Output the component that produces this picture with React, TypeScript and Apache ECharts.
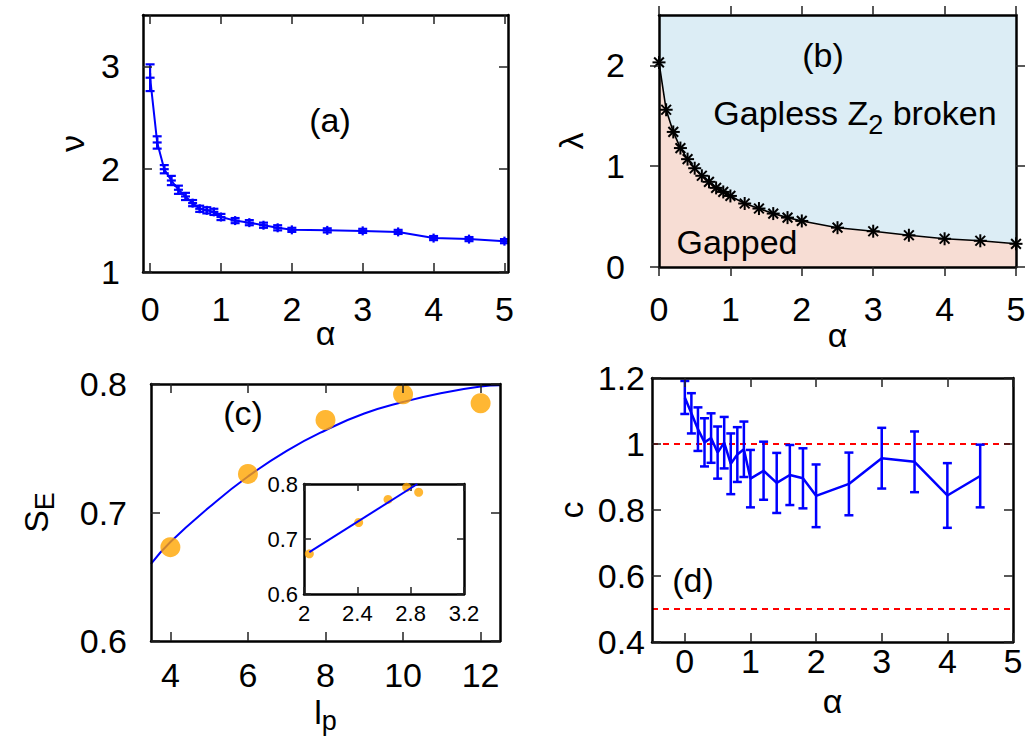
import React, { useEffect, useRef } from "react";
import * as echarts from "echarts";

const FONT = "'Liberation Sans', Arial, Helvetica, sans-serif";

// ---------- Panel (a) ----------
const alphaA = [0, 0.1, 0.2, 0.3, 0.4, 0.5, 0.6, 0.7, 0.8, 0.9, 1.0, 1.2, 1.4, 1.6, 1.8, 2.0, 2.5, 3.0, 3.5, 4.0, 4.5, 5.0];
const nuA = [2.89, 2.26, 2.0, 1.89, 1.8, 1.735, 1.67, 1.615, 1.6, 1.585, 1.535, 1.5, 1.48, 1.455, 1.43, 1.41, 1.405, 1.4, 1.39, 1.33, 1.32, 1.3];
const nuErr = [0.13, 0.06, 0.04, 0.045, 0.04, 0.035, 0.03, 0.03, 0.03, 0.03, 0.03, 0.025, 0.025, 0.025, 0.025, 0.02, 0.02, 0.02, 0.02, 0.02, 0.02, 0.02];
const ticksA_x = [0, 1, 2, 3, 4, 5];
const ticksA_y = [1, 2, 3];

// ---------- Panel (b) ----------
const alphaB = [0, 0.1, 0.2, 0.3, 0.4, 0.5, 0.6, 0.7, 0.8, 0.9, 1.0, 1.2, 1.4, 1.6, 1.8, 2.0, 2.5, 3.0, 3.5, 4.0, 4.5, 5.0];
const lambdaB = [2.03, 1.56, 1.34, 1.18, 1.07, 0.98, 0.905, 0.845, 0.785, 0.745, 0.705, 0.63, 0.58, 0.53, 0.49, 0.457, 0.39, 0.355, 0.315, 0.28, 0.26, 0.23];
const ticksB_x = [0, 1, 2, 3, 4, 5];
const ticksB_y = [0, 1, 2];

// ---------- Panel (c) ----------
const lp = [4, 6, 8, 10, 12];
const sE = [0.673, 0.73, 0.772, 0.792, 0.785];
const fitX = [3.5, 4, 5, 6, 7, 8, 9, 10, 11, 12, 12.5];
const fitY = [0.66, 0.677, 0.704, 0.728, 0.748, 0.764, 0.777, 0.786, 0.793, 0.798, 0.799];
const ticksC_x = [4, 6, 8, 10, 12];
const ticksC_y = [0.6, 0.7, 0.8];

// inset of (c)
const insetX = [2.04, 2.41, 2.63, 2.77, 2.86];
const insetY = [0.673, 0.73, 0.772, 0.794, 0.785];
const insetFitX = [2.04, 2.85];
const insetFitY = [0.676, 0.8];
const ticksI_x = [2, 2.4, 2.8, 3.2];
const ticksI_y = [0.6, 0.7, 0.8];

// ---------- Panel (d) ----------
const alphaD = [0, 0.1, 0.2, 0.3, 0.4, 0.5, 0.6, 0.7, 0.8, 0.9, 1.0, 1.2, 1.4, 1.6, 1.8, 2.0, 2.5, 3.0, 3.5, 4.0, 4.5];
const cD = [1.141, 1.093, 1.045, 1.005, 1.018, 0.974, 1.004, 0.94, 0.968, 0.984, 0.895, 0.919, 0.882, 0.906, 0.896, 0.843, 0.879, 0.957, 0.946, 0.844, 0.903];
const cErr = [0.05, 0.061, 0.066, 0.073, 0.075, 0.079, 0.078, 0.092, 0.083, 0.084, 0.087, 0.088, 0.091, 0.091, 0.091, 0.095, 0.095, 0.092, 0.092, 0.098, 0.095];
const refLines = [1, 0.5];
const ticksD_x = [0, 1, 2, 3, 4, 5];
const ticksD_y = [0.4, 0.6, 0.8, 1, 1.2];

const fmt1 = (v: number) => String(Math.round(v * 10) / 10);
const fmtFixed1 = (v: number) => (Math.round(v * 10) / 10).toFixed(1);

const AX_LINE = { show: true, onZero: false, lineStyle: { color: "#000", width: 2.5 } };
const tick = (vals: number[], len = 9, inside = true) => ({
  show: true,
  inside,
  length: len,
  customValues: vals,
  lineStyle: { color: "#222", width: 1.5 },
});
const subRich = (size: number) => ({
  sub: { fontSize: size, fontFamily: FONT, color: "#000", verticalAlign: "bottom", lineHeight: 24 },
});

function xPair(gi: number, min: number, max: number, ticks: number[], o: any) {
  const fs = o.fontSize ?? 34;
  const inside = o.inside ?? true;
  return [
    {
      type: "value", gridIndex: gi, min, max, position: "bottom", z: 5,
      axisLine: AX_LINE, axisTick: tick(ticks, o.tickLen ?? 9, inside), splitLine: { show: false },
      axisLabel: {
        show: true, customValues: ticks, margin: o.margin, fontSize: fs, color: "#000",
        fontFamily: FONT, formatter: o.fmt ?? fmt1, hideOverlap: false,
      },
      name: o.name, nameLocation: "middle", nameGap: o.nameGap, nameMoveOverlap: false,
      nameTextStyle: { fontSize: 34, fontFamily: FONT, color: "#000", lineHeight: 44, rich: subRich(27) },
    },
    {
      type: "value", gridIndex: gi, min, max, position: "top", z: 5,
      axisLine: AX_LINE, axisTick: tick(ticks, o.tickLen ?? 9, inside), splitLine: { show: false },
      axisLabel: { show: false },
    },
  ];
}

function yPair(gi: number, min: number, max: number, ticks: number[], o: any) {
  const fs = o.fontSize ?? 34;
  const inside = o.inside ?? true;
  return [
    {
      type: "value", gridIndex: gi, min, max, position: "left", z: 5,
      axisLine: AX_LINE, axisTick: tick(ticks, o.tickLen ?? 9, inside), splitLine: { show: false },
      axisLabel: {
        show: true, customValues: ticks, margin: o.margin, fontSize: fs, color: "#000",
        fontFamily: FONT, formatter: o.fmt ?? fmt1, hideOverlap: false,
      },
      name: o.name, nameLocation: "middle", nameGap: o.nameGap, nameRotate: 90, nameMoveOverlap: false,
      nameTextStyle: { fontSize: 34, fontFamily: FONT, color: "#000", lineHeight: 44, rich: subRich(27) },
    },
    {
      type: "value", gridIndex: gi, min, max, position: "right", z: 5,
      axisLine: AX_LINE, axisTick: tick(ticks, o.tickLen ?? 9, inside), splitLine: { show: false },
      axisLabel: { show: false },
    },
  ];
}

function errRender(capHalf: number, plusHalf: number, color: string, lw: number) {
  return (_p: any, api: any) => {
    const x = api.value(0);
    const y = api.value(1);
    const e = api.value(2);
    const top = api.coord([x, y + e]);
    const bot = api.coord([x, y - e]);
    const mid = api.coord([x, y]);
    const st = { stroke: color, lineWidth: lw };
    const children: any[] = [
      { type: "line", shape: { x1: top[0], y1: top[1], x2: bot[0], y2: bot[1] }, style: st },
      { type: "line", shape: { x1: top[0] - capHalf, y1: top[1], x2: top[0] + capHalf, y2: top[1] }, style: st },
      { type: "line", shape: { x1: bot[0] - capHalf, y1: bot[1], x2: bot[0] + capHalf, y2: bot[1] }, style: st },
    ];
    if (plusHalf > 0) {
      children.push({ type: "line", shape: { x1: mid[0] - plusHalf, y1: mid[1], x2: mid[0] + plusHalf, y2: mid[1] }, style: st });
      children.push({ type: "line", shape: { x1: mid[0], y1: mid[1] - plusHalf, x2: mid[0], y2: mid[1] + plusHalf }, style: st });
    }
    return { type: "group", children };
  };
}

function starRender(r: number) {
  return (_p: any, api: any) => {
    const c = api.coord([api.value(0), api.value(1)]);
    const d = r * 0.75;
    const st = { stroke: "#000", lineWidth: 2 };
    return {
      type: "group",
      children: [
        { type: "line", shape: { x1: c[0] - r, y1: c[1], x2: c[0] + r, y2: c[1] }, style: st },
        { type: "line", shape: { x1: c[0], y1: c[1] - r, x2: c[0], y2: c[1] + r }, style: st },
        { type: "line", shape: { x1: c[0] - d, y1: c[1] - d, x2: c[0] + d, y2: c[1] + d }, style: st },
        { type: "line", shape: { x1: c[0] - d, y1: c[1] + d, x2: c[0] + d, y2: c[1] - d }, style: st },
      ],
    };
  };
}

const zip2 = (a: number[], b: number[]) => a.map((v, i) => [v, b[i]]);
const zip3 = (a: number[], b: number[], c: number[]) => a.map((v, i) => [v, b[i], c[i]]);

function buildOption(): any {
  const xAxis = [
    ...xPair(0, -0.1, 5.05, ticksA_x, { margin: 20, name: "α", nameGap: 39 }),
    ...xPair(1, 0, 5, ticksB_x, { margin: 25, name: "α", nameGap: 46, inside: false }),
    ...xPair(2, 3.5, 12.5, ticksC_x, { margin: 17, name: "l{sub|p}", nameGap: 49 }),
    ...xPair(3, -0.5, 5, ticksD_x, { margin: 2, name: "α", nameGap: 37 }),
    ...xPair(4, 2, 3.2, ticksI_x, { margin: 8, fontSize: 22, fmt: fmt1, tickLen: 7 }),
  ];
  const yAxis = [
    ...yPair(0, 1, 3.5, ticksA_y, { margin: 23, name: "ν", nameGap: 49 }),
    ...yPair(1, 0, 2.5, ticksB_y, { margin: 34, name: "λ", nameGap: 66, inside: false }),
    ...yPair(2, 0.6, 0.8, ticksC_y, { margin: 24, name: "S{sub|E}", nameGap: 93, fmt: fmtFixed1 }),
    ...yPair(3, 0.4, 1.2, ticksD_y, { margin: 7, name: "c", nameGap: 59, fmt: fmt1 }),
    ...yPair(4, 0.6, 0.8, ticksI_y, { margin: 6, fontSize: 22, fmt: fmtFixed1, tickLen: 7 }),
  ];

  const text = (t: string, x: number, y: number, extra: any = {}) => ({
    type: "text",
    x,
    y,
    z: 100,
    style: {
      text: t,
      fontSize: 34,
      fontFamily: FONT,
      fill: "#000",
      align: "center",
      verticalAlign: "middle",
      ...extra,
    },
  });

  return {
    animation: false,
    backgroundColor: "#fff",
    grid: [
      { left: 143, top: 15, width: 365, height: 257, outerBoundsMode: "none" },
      { left: 659, top: 15, width: 357, height: 252, show: true, backgroundColor: "#dcedf5", borderWidth: 0, outerBoundsMode: "none" },
      { left: 151, top: 384, width: 349, height: 257, outerBoundsMode: "none" },
      { left: 652, top: 378, width: 361, height: 264, outerBoundsMode: "none" },
      { left: 304, top: 484, width: 160, height: 110, show: true, backgroundColor: "#fff", borderWidth: 0, outerBoundsMode: "none", z: 3 },
    ],
    xAxis,
    yAxis,
    series: [
      // (a)
      {
        type: "line", xAxisIndex: 0, yAxisIndex: 0, data: zip2(alphaA, nuA), symbol: "none",
        lineStyle: { color: "#0000ff", width: 2 }, z: 3,
      },
      {
        type: "custom", xAxisIndex: 0, yAxisIndex: 0, data: zip3(alphaA, nuA, nuErr),
        encode: { x: 0, y: 1 }, renderItem: errRender(4.5, 4.5, "#0000ff", 2.2), z: 4,
      },
      // (b)
      {
        type: "line", xAxisIndex: 2, yAxisIndex: 2, data: zip2(alphaB, lambdaB), symbol: "none",
        lineStyle: { color: "#000", width: 1.6 }, areaStyle: { color: "#f7ddd4", opacity: 1 }, z: 3,
      },
      {
        type: "custom", xAxisIndex: 2, yAxisIndex: 2, data: zip2(alphaB, lambdaB),
        encode: { x: 0, y: 1 }, renderItem: starRender(6.5), z: 4,
      },
      // (c)
      {
        type: "line", xAxisIndex: 4, yAxisIndex: 4, data: zip2(fitX, fitY), symbol: "none", smooth: true,
        lineStyle: { color: "#0000ff", width: 2 }, z: 3,
      },
      {
        type: "scatter", xAxisIndex: 4, yAxisIndex: 4, data: zip2(lp, sE), symbolSize: 20,
        itemStyle: { color: "#ffa500" }, z: 4,
      },
      // inset
      {
        type: "line", xAxisIndex: 8, yAxisIndex: 8, data: zip2(insetFitX, insetFitY), symbol: "none",
        lineStyle: { color: "#0000ff", width: 2 }, z: 6,
      },
      {
        type: "scatter", xAxisIndex: 8, yAxisIndex: 8, data: zip2(insetX, insetY), symbolSize: 9,
        itemStyle: { color: "#ffa500" }, z: 5,
      },
      // (d)
      {
        type: "line", xAxisIndex: 6, yAxisIndex: 6, data: zip2(alphaD, cD), symbol: "none",
        lineStyle: { color: "#0000ff", width: 2.5 }, z: 4,
        markLine: {
          silent: true, symbol: ["none", "none"], label: { show: false },
          lineStyle: { color: "#ff0000", type: [6, 5], width: 2 },
          data: refLines.map((v) => ({ yAxis: v })),
          z: 2,
        },
      },
      {
        type: "custom", xAxisIndex: 6, yAxisIndex: 6, data: zip3(alphaD, cD, cErr),
        encode: { x: 0, y: 1 }, renderItem: errRender(4.5, 0, "#0000ff", 2.5), z: 4,
      },
    ],
    graphic: [
      text("(a)", 330, 120),
      text("(b)", 823, 55),
      {
        type: "text", x: 855, y: 113, z: 100,
        style: {
          text: "Gapless Z{sub|2} broken", fontSize: 34, fontFamily: FONT, fill: "#000",
          align: "center", verticalAlign: "middle", lineHeight: 50,
          rich: { sub: { fontSize: 27, fontFamily: FONT, fill: "#000", verticalAlign: "bottom", lineHeight: 24 } },
        },
      },
      text("Gapped", 737, 242),
      text("(c)", 243, 413),
      text("(d)", 693, 580),
    ],
  };
}

export default function App() {
  const ref = useRef<HTMLDivElement>(null);
  useEffect(() => {
    if (!ref.current) return;
    const chart = echarts.init(ref.current, undefined, { renderer: "svg" });
    chart.setOption(buildOption());
    return () => chart.dispose();
  }, []);
  return (
    <div
      ref={ref}
      style={{ position: "absolute", left: 0, top: 0, width: 1032, height: 742, background: "#fff" }}
    />
  );
}
